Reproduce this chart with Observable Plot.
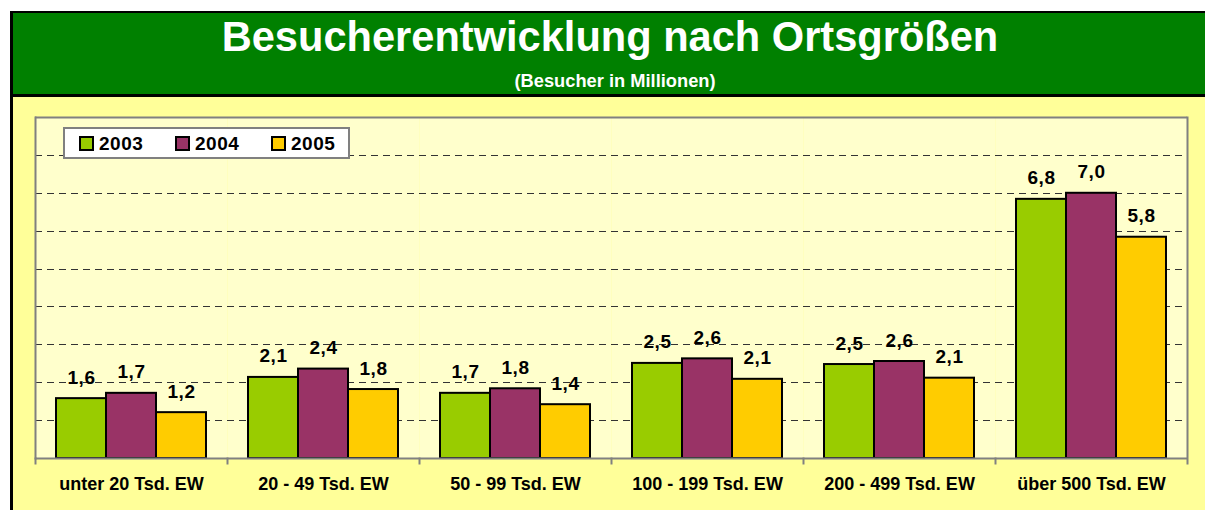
<!DOCTYPE html>
<html><head><meta charset="utf-8">
<script src="https://cdn.jsdelivr.net/npm/d3@7"></script>
<script src="https://cdn.jsdelivr.net/npm/@observablehq/plot@0.6"></script>
<style>
html,body{margin:0;padding:0;background:#fff;width:1205px;height:510px;overflow:hidden;font-family:"Liberation Sans",Arial,sans-serif;}
#frame{position:absolute;left:10px;top:11px;width:1192px;height:499px;border-left:3px solid #000;border-top:2px solid #000;background:#FFFF99;}
#header{position:absolute;left:0;top:0;width:1192px;height:81px;background:#008000;border-bottom:3px solid #000;}
#title{position:absolute;text-align:center;color:#fff;font-weight:bold;font-size:41.6px;line-height:41.6px;white-space:nowrap;}
#subtitle{position:absolute;text-align:center;color:#fff;font-weight:bold;font-size:18.3px;line-height:18.3px;white-space:nowrap;}
#chart{position:absolute;left:13px;top:97px;}
#legend{position:absolute;left:63px;top:127px;width:287px;height:32px;box-sizing:border-box;border:2px solid #808080;background:#fff;}
.sw{position:absolute;top:7px;width:11px;height:11px;border:2px solid #000;}
.lt{position:absolute;top:5px;font-size:19px;line-height:19px;font-weight:bold;letter-spacing:0.5px;color:#000;}
</style></head>
<body>
<div id="frame"><div id="header"></div></div>
<div id="title" style="left:14px;width:1192px;top:16px;">Besucherentwicklung nach Ortsgrößen</div>
<div id="subtitle" style="left:19px;width:1192px;top:72px;">(Besucher in Millionen)</div>
<div id="chart"></div>
<div id="legend"></div>
<script>
const categories = ["unter 20 Tsd. EW","20 - 49 Tsd. EW","50 - 99 Tsd. EW","100 - 199 Tsd. EW","200 - 499 Tsd. EW","über 500 Tsd. EW"];
const years = ["2003","2004","2005"];
const v2003 = [1.58, 2.14, 1.72, 2.51, 2.48, 6.84];
const v2004 = [1.72, 2.36, 1.84, 2.63, 2.56, 7.00];
const v2005 = [1.21, 1.82, 1.42, 2.09, 2.12, 5.84];
const colors = ["#99CC00","#993366","#FFCC00"];
const gridTicks = [1,2,3,4,5,6,7,8];
const yMax = 9;

const series = [v2003, v2004, v2005];
const data = categories.flatMap((c, i) => years.map((y, j) => ({cat: c, year: y, value: series[j][i]})));

const W = 1192, H = 413, mT = 20, mB = 52, mL = 22, mR = 18;
const innerH = H - mT - mB;
const gray = "#808080";

const chart = Plot.plot({
  width: W, height: H,
  marginLeft: mL, marginRight: mR, marginTop: mT, marginBottom: mB,
  style: {background: "transparent", fontFamily: "'Liberation Sans', Arial, sans-serif", color: "#000", overflow: "visible"},
  fx: {domain: categories, padding: 0, label: null},
  x: {domain: years, paddingInner: 0, paddingOuter: 0.39, axis: null},
  y: {domain: [0, yMax], axis: null},
  color: {domain: years, range: colors},
  marks: [
    Plot.frame({fill: "#FFFFCC", stroke: "none"}),
    Plot.ruleY(gridTicks, {stroke: "#333333", strokeOpacity: 1, strokeWidth: 1, strokeDasharray: "7,5", shapeRendering: "crispEdges"}),
    Plot.barY(data, {fx: "cat", x: "year", y: "value", fill: "year", stroke: "#000", strokeWidth: 2}),
    Plot.ruleY([yMax], {stroke: gray, strokeWidth: 2}),
    Plot.ruleY([0], {stroke: gray, strokeWidth: 2}),
    Plot.frame({anchor: "left", insetTop: innerH, insetBottom: -5, stroke: gray, strokeWidth: 2}),
    Plot.frame({anchor: "left", facetAnchor: "left", stroke: gray, strokeWidth: 2}),
    Plot.frame({anchor: "right", facetAnchor: "right", insetBottom: -5, stroke: gray, strokeWidth: 2}),
    Plot.text(data, {fx: "cat", x: "year", y: "value", text: d => d.value.toFixed(1).replace(".", ","),
      lineAnchor: "bottom", dy: -15, fontSize: 19, fontWeight: "bold", fill: "#000"}),
    Plot.axisFx({anchor: "bottom", tickSize: 0, tickPadding: 19, fontSize: 18, fontWeight: "bold", fill: "#000", label: null})
  ]
});
document.getElementById("chart").appendChild(chart);
d3.select(chart).selectAll('g[aria-label="text"] text').attr("letter-spacing", "0.5px");

const leg = document.getElementById("legend");
years.forEach((y, i) => {
  const sw = document.createElement("div");
  sw.className = "sw";
  sw.style.left = (14 + i * 96) + "px";
  sw.style.background = colors[i];
  leg.appendChild(sw);
  const t = document.createElement("div");
  t.className = "lt";
  t.style.left = (34 + i * 96) + "px";
  t.textContent = y;
  leg.appendChild(t);
});
</script>
</body></html>
